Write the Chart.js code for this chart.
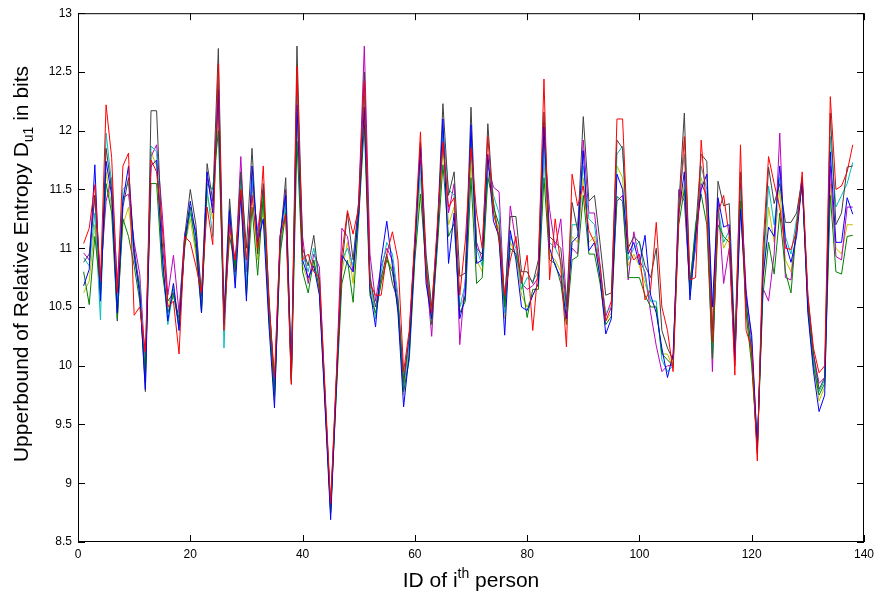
<!DOCTYPE html>
<html>
<head>
<meta charset="utf-8">
<title>Upperbound of Relative Entropy</title>
<script src="https://cdn.jsdelivr.net/npm/chart.js@4.4.0/dist/chart.umd.min.js"></script>
<style>
  html, body { margin: 0; padding: 0; background: #fff; }
  #wrap { width: 879px; height: 597px; }
</style>
</head>
<body>
<div id="wrap"><canvas id="entropy-chart" width="879" height="597"></canvas></div>
<script>
// person IDs (x axis)
const personIds = [
  1, 2, 3, 4, 5, 6, 7, 8, 9, 10, 11, 12, 13, 14, 15, 16, 17, 18, 19, 20,
  21, 22, 23, 24, 25, 26, 27, 28, 29, 30, 31, 32, 33, 34, 35, 36, 37, 38, 39, 40,
  41, 42, 43, 44, 45, 46, 47, 48, 49, 50, 51, 52, 53, 54, 55, 56, 57, 58, 59, 60,
  61, 62, 63, 64, 65, 66, 67, 68, 69, 70, 71, 72, 73, 74, 75, 76, 77, 78, 79, 80,
  81, 82, 83, 84, 85, 86, 87, 88, 89, 90, 91, 92, 93, 94, 95, 96, 97, 98, 99, 100,
  101, 102, 103, 104, 105, 106, 107, 108, 109, 110, 111, 112, 113, 114, 115, 116, 117, 118, 119, 120,
  121, 122, 123, 124, 125, 126, 127, 128, 129, 130, 131, 132, 133, 134, 135, 136, 137, 138
];

// tick labels
const xTicks = [0, 20, 40, 60, 80, 100, 120, 140];
const yTicks = [8.5, 9, 9.5, 10, 10.5, 11, 11.5, 12, 12.5, 13];

// one curve per run
const runBlack = [
  10.88, 10.95, 11.45, 10.60, 11.85, 11.50, 10.38, 11.35, 11.60, 11.00,
  10.65, 9.78, 12.17, 12.17, 11.05, 10.55, 10.62, 10.40, 11.10, 11.50,
  11.20, 10.60, 11.72, 11.40, 12.70, 10.45, 11.42, 10.80, 11.65, 11.00,
  11.85, 10.95, 11.55, 10.60, 9.80, 11.05, 11.60, 9.90, 12.72, 11.00,
  10.85, 11.11, 10.70, 9.75, 8.78, 9.85, 10.85, 11.30, 10.90, 11.40,
  12.50, 10.75, 10.50, 10.75, 10.95, 10.70, 10.55, 9.85, 10.25, 11.05,
  11.90, 10.95, 10.50, 11.15, 12.23, 11.45, 11.65, 10.76, 10.79, 12.20,
  11.00, 10.95, 12.06, 11.35, 11.20, 10.55, 11.27, 11.27, 10.80, 10.80,
  10.70, 10.90, 12.16, 11.10, 11.05, 11.00, 10.50, 11.39, 11.15, 12.12,
  11.40, 11.45, 11.04, 10.60, 10.62, 11.92, 11.85, 11.00, 11.10, 11.05,
  10.85, 10.75, 11.00, 10.30, 10.15, 10.05, 11.35, 12.15, 10.70, 11.15,
  11.80, 11.74, 10.30, 11.57, 11.36, 11.38, 10.20, 11.65, 10.55, 10.10,
  9.25, 10.85, 11.69, 11.38, 11.55, 11.22, 11.22, 11.30, 11.60, 10.55,
  10.10, 9.80, 9.90, 12.15, 11.20, 11.30, 11.69, 11.70
];
const runBlue = [
  10.68, 10.82, 11.71, 10.55, 11.74, 11.45, 10.45, 11.40, 11.70, 10.95,
  10.60, 9.80, 11.70, 11.75, 10.95, 10.38, 10.70, 10.30, 11.05, 11.40,
  11.10, 10.45, 11.65, 11.30, 12.35, 10.35, 11.32, 10.66, 11.45, 10.55,
  11.70, 11.05, 11.25, 10.35, 9.64, 11.10, 11.45, 9.88, 12.22, 10.90,
  10.75, 10.85, 10.60, 9.65, 8.69, 9.80, 10.94, 10.87, 10.80, 11.30,
  12.20, 10.65, 10.33, 10.90, 11.23, 10.85, 10.45, 9.65, 10.10, 11.00,
  11.85, 10.70, 10.40, 11.10, 12.10, 10.87, 11.30, 10.40, 10.60, 12.05,
  10.87, 10.90, 11.80, 11.23, 11.10, 10.26, 11.15, 10.90, 10.50, 10.47,
  10.60, 10.70, 12.03, 11.00, 10.85, 10.75, 10.40, 11.05, 11.10, 11.83,
  10.98, 11.05, 10.75, 10.27, 10.40, 11.63, 11.50, 10.95, 11.05, 10.86,
  11.11, 10.60, 10.45, 10.15, 9.90, 10.10, 11.30, 11.65, 10.56, 11.10,
  11.50, 11.63, 10.50, 11.43, 11.18, 11.20, 10.05, 11.33, 10.60, 10.26,
  9.30, 10.75, 11.18, 11.10, 11.70, 11.05, 10.88, 11.10, 11.58, 10.45,
  9.95, 9.61, 9.75, 11.82, 11.05, 11.05, 11.43, 11.29
];
const runRed = [
  11.04, 11.17, 11.54, 10.72, 12.22, 11.77, 10.62, 11.70, 11.81, 10.43,
  10.50, 10.12, 11.75, 11.65, 11.20, 10.50, 10.55, 10.10, 11.10, 11.05,
  10.85, 10.62, 11.35, 11.03, 12.57, 10.30, 11.20, 10.90, 11.50, 10.90,
  11.45, 11.00, 11.70, 10.55, 9.90, 11.10, 11.29, 9.84, 12.55, 10.90,
  10.95, 10.80, 10.75, 9.80, 8.83, 9.90, 10.95, 11.32, 11.12, 11.35,
  12.42, 10.70, 10.60, 10.60, 10.95, 11.14, 10.90, 9.95, 10.30, 11.10,
  11.99, 10.81, 10.45, 11.20, 11.90, 11.35, 11.43, 10.60, 11.07, 11.85,
  11.30, 11.00, 11.95, 11.30, 11.10, 10.60, 10.90, 11.10, 10.70, 10.94,
  10.30, 10.85, 12.44, 10.73, 11.25, 10.85, 10.16, 11.63, 11.36, 11.53,
  11.15, 11.05, 10.85, 10.38, 10.50, 12.10, 12.10, 11.00, 10.90, 10.95,
  10.56, 10.65, 11.22, 10.50, 10.30, 9.95, 11.25, 11.95, 10.73, 10.75,
  11.92, 11.30, 10.20, 11.30, 11.45, 11.10, 9.92, 11.88, 10.30, 10.15,
  9.19, 11.00, 11.78, 11.55, 11.35, 11.00, 10.99, 11.15, 11.65, 10.60,
  10.15, 9.94, 10.00, 12.29, 11.50, 11.53, 11.65, 11.88
];
const runGreen = [
  10.80, 10.52, 11.10, 10.65, 11.55, 11.30, 10.40, 11.25, 11.10, 10.85,
  10.55, 9.95, 11.55, 11.55, 10.80, 10.45, 10.60, 10.35, 11.00, 11.35,
  11.00, 10.45, 11.55, 11.50, 12.00, 10.40, 11.10, 10.85, 11.49, 10.60,
  11.35, 10.77, 11.45, 10.45, 9.74, 10.95, 11.30, 9.85, 11.91, 10.80,
  10.62, 10.90, 10.65, 9.70, 8.75, 9.75, 10.70, 10.90, 10.54, 11.25,
  12.05, 10.60, 10.45, 10.70, 10.90, 10.80, 10.50, 9.78, 10.05, 10.90,
  11.46, 10.85, 10.35, 11.00, 11.71, 11.10, 11.21, 10.45, 10.55, 11.60,
  10.70, 10.75, 11.60, 11.40, 11.05, 10.50, 11.00, 10.95, 10.75, 10.41,
  10.65, 10.65, 11.60, 10.90, 10.87, 10.70, 10.35, 10.90, 10.93, 11.45,
  10.95, 10.95, 10.70, 10.35, 10.42, 11.44, 11.40, 10.75, 10.75, 10.75,
  10.60, 10.50, 10.50, 10.10, 10.05, 10.00, 11.20, 11.50, 10.65, 11.20,
  11.46, 11.20, 10.06, 11.20, 11.10, 11.05, 10.10, 11.40, 10.45, 10.00,
  9.30, 10.60, 11.05, 10.78, 11.30, 10.80, 10.62, 11.20, 11.55, 10.50,
  10.00, 9.75, 9.85, 11.45, 10.80, 10.78, 11.10, 11.11
];
const runCyan = [
  10.92, 10.85, 11.30, 10.39, 11.98, 11.55, 10.50, 11.50, 11.55, 10.90,
  10.70, 9.90, 11.87, 11.82, 10.90, 10.35, 10.65, 10.30, 11.08, 11.30,
  11.05, 10.50, 11.50, 11.10, 12.40, 10.15, 11.35, 10.75, 11.60, 10.70,
  11.60, 11.10, 11.40, 10.50, 9.75, 11.00, 11.40, 9.92, 12.30, 10.95,
  10.80, 11.00, 10.70, 9.72, 8.76, 9.82, 10.90, 11.00, 10.85, 11.30,
  12.30, 10.80, 10.40, 10.80, 11.05, 10.95, 10.60, 9.80, 10.20, 11.00,
  11.70, 10.90, 10.45, 11.05, 12.00, 11.50, 11.45, 10.50, 10.70, 11.90,
  11.00, 10.85, 11.75, 11.45, 11.30, 10.45, 11.10, 11.00, 10.65, 10.75,
  10.72, 10.80, 11.85, 11.05, 11.00, 10.90, 10.45, 11.20, 11.20, 11.70,
  11.25, 11.20, 10.80, 10.45, 10.50, 11.80, 11.87, 10.90, 11.00, 11.06,
  10.75, 10.55, 10.55, 10.05, 9.95, 10.00, 11.40, 11.80, 10.60, 11.05,
  11.70, 11.50, 10.10, 11.35, 11.05, 11.15, 10.15, 11.50, 10.50, 10.15,
  9.28, 10.80, 11.53, 11.20, 11.60, 11.10, 10.95, 11.25, 11.60, 10.55,
  10.05, 9.78, 9.88, 11.95, 11.35, 11.45, 11.55, 11.73
];
const runMagenta = [
  10.96, 10.90, 11.45, 10.75, 11.40, 11.60, 10.70, 11.43, 11.46, 11.05,
  10.78, 10.02, 11.78, 11.88, 11.30, 10.60, 10.94, 10.45, 11.12, 11.30,
  11.15, 10.58, 11.60, 11.35, 12.25, 10.35, 11.25, 10.80, 11.78, 10.80,
  11.55, 11.15, 11.50, 10.55, 9.85, 11.10, 11.50, 9.95, 12.40, 11.10,
  10.70, 10.95, 10.84, 9.75, 8.80, 9.88, 11.17, 11.10, 10.80, 11.40,
  12.72, 10.95, 10.55, 10.85, 11.00, 10.90, 10.55, 9.88, 10.25, 11.05,
  11.75, 10.80, 10.25, 11.10, 11.95, 11.30, 11.55, 10.18, 10.75, 11.95,
  11.05, 10.90, 11.70, 11.52, 11.48, 10.50, 11.36, 11.05, 10.70, 10.65,
  10.68, 10.75, 11.90, 11.33, 11.00, 11.25, 10.55, 11.00, 10.95, 11.92,
  11.30, 11.30, 10.85, 10.42, 10.55, 11.40, 11.45, 10.73, 11.14, 10.90,
  10.80, 10.45, 10.17, 9.95, 10.00, 10.00, 11.50, 11.40, 10.65, 11.00,
  11.55, 11.45, 9.95, 11.40, 10.70, 11.00, 10.00, 11.55, 10.65, 10.20,
  9.32, 10.66, 10.55, 10.95, 11.98, 10.75, 10.73, 11.20, 11.55, 10.60,
  10.10, 9.85, 9.90, 11.70, 10.93, 10.90, 11.35, 11.35
];
const runYellow = [
  10.62, 10.72, 11.20, 10.60, 11.65, 11.35, 10.55, 11.20, 11.35, 10.95,
  10.62, 9.86, 11.82, 11.70, 10.85, 10.48, 10.70, 10.32, 11.02, 11.25,
  10.95, 10.50, 11.45, 11.25, 12.15, 10.40, 11.20, 10.70, 11.55, 10.65,
  11.50, 10.90, 11.35, 10.40, 9.70, 10.98, 11.35, 9.87, 12.10, 10.85,
  10.72, 10.90, 10.62, 9.68, 8.74, 9.78, 10.80, 11.05, 10.70, 11.28,
  12.15, 10.70, 10.42, 10.72, 10.92, 10.82, 10.48, 9.75, 10.15, 10.95,
  11.60, 10.75, 10.40, 11.05, 11.85, 11.20, 11.35, 10.50, 10.60, 11.75,
  10.90, 10.80, 11.65, 11.30, 11.15, 10.40, 11.05, 10.95, 10.60, 10.50,
  10.60, 10.70, 11.75, 10.95, 10.90, 10.80, 10.42, 11.10, 11.05, 11.60,
  11.05, 11.10, 10.72, 10.38, 10.45, 11.70, 11.60, 10.85, 10.95, 10.85,
  10.70, 10.55, 10.50, 10.10, 10.10, 9.98, 11.30, 11.55, 10.60, 11.10,
  11.60, 11.40, 10.15, 11.30, 11.00, 11.10, 10.10, 11.45, 10.50, 10.05,
  9.27, 10.70, 11.35, 11.05, 11.50, 10.90, 10.80, 11.15, 11.57, 10.50,
  10.00, 9.70, 9.82, 11.55, 11.00, 10.95, 11.20, 11.20
];

// 图层顺序: 第一个数据集画在最上面
const runs = [
  { name: 'red', values: runRed, color: '#ff0000' },
  { name: 'blue', values: runBlue, color: '#0000ff' },
  { name: 'green', values: runGreen, color: '#008000' },
  { name: 'black', values: runBlack, color: '#404040' },
  { name: 'cyan', values: runCyan, color: '#00bfbf' },
  { name: 'magenta', values: runMagenta, color: '#bf00bf' },
  { name: 'yellow', values: runYellow, color: '#bfbf00' }
];

const FONT = '"Liberation Sans", Arial, Helvetica, sans-serif';

// MATLAB style box with inward ticks + axis titles with sub/superscript
const matlabFrame = {
  id: 'matlabFrame',
  afterDraw(chart) {
    const ctx = chart.ctx;
    const a = chart.chartArea;
    const xs = chart.scales.x;
    const ys = chart.scales.y;
    const len = 7;

    ctx.save();
    ctx.strokeStyle = '#000';
    ctx.lineWidth = 1;
    ctx.strokeRect(a.left + 0.5, a.top + 0.5, a.right - a.left - 1, a.bottom - a.top - 1);

    ctx.beginPath();
    xTicks.forEach(v => {
      const px = Math.round(xs.getPixelForValue(v)) + 0.5;
      ctx.moveTo(px, a.bottom);
      ctx.lineTo(px, a.bottom - len);
      ctx.moveTo(px, a.top);
      ctx.lineTo(px, a.top + len);
    });
    yTicks.forEach(v => {
      const py = Math.round(ys.getPixelForValue(v)) + 0.5;
      ctx.moveTo(a.left, py);
      ctx.lineTo(a.left + len, py);
      ctx.moveTo(a.right, py);
      ctx.lineTo(a.right - len, py);
    });
    ctx.stroke();

    ctx.fillStyle = '#000';
    ctx.textBaseline = 'alphabetic';
    ctx.textAlign = 'left';

    const big = '21px ' + FONT;
    const small = '14px ' + FONT;

    // x title: ID of i^th person
    ctx.font = big;
    const p1 = 'ID of i', p3 = ' person';
    const w1 = ctx.measureText(p1).width;
    const w3 = ctx.measureText(p3).width;
    ctx.font = small;
    const w2 = ctx.measureText('th').width;
    const x0 = (a.left + a.right) / 2 - (w1 + w2 + w3) / 2;
    const base = 587;
    ctx.font = big;
    ctx.fillText(p1, x0, base);
    ctx.font = small;
    ctx.fillText('th', x0 + w1, base - 9);
    ctx.font = big;
    ctx.fillText(p3, x0 + w1 + w2, base);

    // y title: Upperbound of Relative Entropy D_u1 in bits
    const q1 = 'Upperbound of Relative Entropy D', q3 = ' in bits';
    ctx.font = big;
    const v1 = ctx.measureText(q1).width;
    const v3 = ctx.measureText(q3).width;
    ctx.font = small;
    const v2 = ctx.measureText('u1').width;
    ctx.translate(28, 264);
    ctx.rotate(-Math.PI / 2);
    const y0 = -(v1 + v2 + v3) / 2;
    ctx.font = big;
    ctx.fillText(q1, y0, 0);
    ctx.font = small;
    ctx.fillText('u1', y0 + v1, 5);
    ctx.font = big;
    ctx.fillText(q3, y0 + v1 + v2, 0);
    ctx.restore();
  }
};

function initChart() {
  const ctx = document.getElementById('entropy-chart');
  Chart.defaults.font.family = FONT;
  Chart.defaults.font.size = 12;
  Chart.defaults.color = '#000';

  new Chart(ctx, {
    type: 'line',
    data: {
      datasets: runs.map(run => ({
        label: run.name,
        data: personIds.map((id, i) => ({ x: id, y: run.values[i] })),
        borderColor: run.color,
        backgroundColor: run.color,
        borderWidth: 1,
        pointRadius: 0,
        tension: 0,
        fill: false
      }))
    },
    options: {
      responsive: false,
      animation: false,
      layout: { padding: { top: 7, right: 13, left: 0, bottom: 0 } },
      plugins: {
        legend: { display: false },
        tooltip: { enabled: false }
      },
      scales: {
        x: {
          type: 'linear',
          min: 0,
          max: 140,
          afterBuildTicks: s => { s.ticks = xTicks.map(v => ({ value: v })); },
          afterFit: s => { s.height = 55; },
          grid: { display: false, drawTicks: false },
          border: { display: false },
          ticks: { padding: 5, maxRotation: 0, autoSkip: false, callback: v => String(v) }
        },
        y: {
          type: 'linear',
          min: 8.5,
          max: 13,
          afterBuildTicks: s => { s.ticks = yTicks.map(v => ({ value: v })); },
          afterFit: s => { s.width = 78; },
          grid: { display: false, drawTicks: false },
          border: { display: false },
          ticks: { padding: 6, autoSkip: false, callback: v => String(v) }
        }
      }
    },
    plugins: [matlabFrame]
  });
}

document.addEventListener('DOMContentLoaded', initChart);
</script>
</body>
</html>
